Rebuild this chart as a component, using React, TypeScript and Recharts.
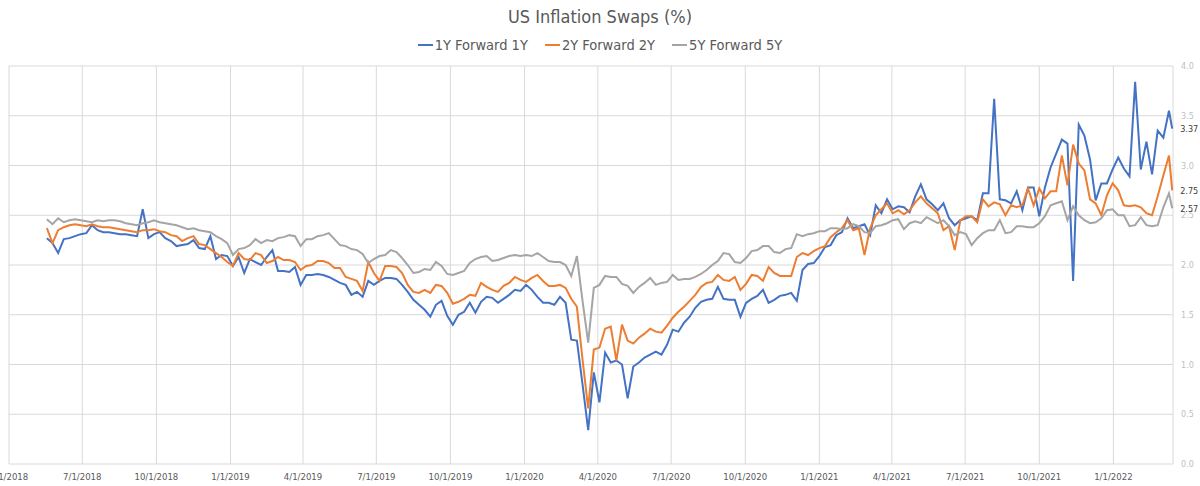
import React from "react";
import { LineChart, Line, XAxis, YAxis, CartesianGrid } from "recharts";

const DAY = 86400000;
// weekly fixings from this Friday onwards, last print is a Tuesday
const FIRST_WEEK = Date.UTC(2018, 4, 18);
const LAST_DAY = Date.UTC(2022, 2, 15);

const FONT = '"DejaVu Sans Condensed", "Liberation Sans Narrow", Roboto, sans-serif';

// 1Y forward 1Y
const f1y2018 = [
  2.27, 2.22, 2.12, 2.26, 2.27, 2.29, 2.31, 2.32, 2.4, 2.35, 2.33, 2.33, 2.32, 2.31, 2.31, 2.3, 2.29,
  2.56, 2.27, 2.31, 2.33, 2.27, 2.24, 2.19, 2.2, 2.21, 2.25, 2.17, 2.16, 2.29, 2.06, 2.1, 2.09,
];
const f1y2019 = [
  1.99, 2.08, 1.92, 2.06, 2.03, 2.0, 2.08, 2.15, 1.94, 1.94, 1.93, 1.98, 1.8, 1.9, 1.9, 1.91, 1.9,
  1.88, 1.85, 1.82, 1.8, 1.7, 1.73, 1.68, 1.84, 1.8, 1.84, 1.87, 1.87, 1.86, 1.8, 1.73, 1.65, 1.6,
  1.55, 1.48, 1.6, 1.64, 1.49, 1.4, 1.5, 1.53, 1.62, 1.52, 1.63, 1.68, 1.67, 1.62, 1.66, 1.7, 1.75,
  1.74,
];
const f1y2020 = [
  1.8, 1.75, 1.68, 1.62, 1.62, 1.6, 1.68, 1.62, 1.25, 1.24, 0.8, 0.34, 0.92, 0.62, 1.12, 1.02, 1.04,
  1.0, 0.66, 0.98, 1.02, 1.07, 1.1, 1.13, 1.1, 1.2, 1.35, 1.33, 1.42, 1.48, 1.57, 1.63, 1.65, 1.66,
  1.78, 1.66, 1.65, 1.65, 1.48, 1.62, 1.66, 1.69, 1.75, 1.62, 1.65, 1.69, 1.7, 1.72, 1.64, 1.95,
  2.01, 2.02,
];
const f1y2021 = [
  2.09, 2.18, 2.2, 2.3, 2.33, 2.47, 2.37, 2.39, 2.41, 2.3, 2.6, 2.52, 2.66, 2.56, 2.59, 2.58, 2.53,
  2.69, 2.81, 2.66, 2.61, 2.55, 2.62, 2.47, 2.4, 2.45, 2.47, 2.49, 2.45, 2.72, 2.72, 3.67, 2.66,
  2.65, 2.62, 2.74, 2.55, 2.78, 2.78, 2.49, 2.78, 2.98, 3.12, 3.26, 3.22, 1.84, 3.41, 3.3, 3.06,
  2.65, 2.82, 2.82, 2.96,
];
const f1y2022 = [3.08, 2.97, 2.89, 3.84, 2.96, 3.24, 2.91, 3.35, 3.28, 3.55, 3.37];

// 2Y forward 2Y
const f2y2018 = [
  2.37, 2.22, 2.35, 2.38, 2.4, 2.41, 2.4, 2.39, 2.41, 2.39, 2.38, 2.38, 2.37, 2.36, 2.35, 2.34, 2.33,
  2.35, 2.35, 2.36, 2.34, 2.33, 2.3, 2.29, 2.24, 2.27, 2.29, 2.21, 2.2, 2.16, 2.12, 2.08, 2.03,
];
const f2y2019 = [
  1.99, 2.12, 2.06, 2.05, 2.12, 2.1, 2.02, 2.04, 2.08, 2.05, 2.05, 2.03, 1.95, 1.99, 2.0, 2.04,
  2.04, 2.02, 1.97, 1.97, 1.88, 1.86, 1.84, 1.74, 2.03, 1.92, 1.84, 1.99, 1.99, 1.98, 1.92, 1.8,
  1.73, 1.72, 1.75, 1.72, 1.8, 1.79, 1.72, 1.61, 1.63, 1.66, 1.7, 1.69, 1.82, 1.78, 1.75, 1.73,
  1.79, 1.82, 1.88, 1.85,
];
const f2y2020 = [
  1.83, 1.87, 1.9, 1.84, 1.79, 1.79, 1.8, 1.77, 1.66, 1.58, 1.05, 0.56, 1.15, 1.17, 1.36, 1.38,
  1.04, 1.4, 1.24, 1.21, 1.27, 1.31, 1.36, 1.33, 1.32, 1.39, 1.47, 1.53, 1.58, 1.64, 1.7, 1.78,
  1.82, 1.83, 1.9, 1.85, 1.84, 1.88, 1.75, 1.81, 1.9, 1.89, 1.84, 1.98, 1.92, 1.89, 1.89, 1.89,
  2.08, 2.12, 2.1, 2.14,
];
const f2y2021 = [
  2.17, 2.19, 2.28, 2.33, 2.37, 2.45, 2.35, 2.37, 2.1, 2.37, 2.5, 2.56, 2.62, 2.52, 2.55, 2.51, 2.55,
  2.63, 2.69, 2.62, 2.57, 2.52, 2.35, 2.39, 2.15, 2.45, 2.49, 2.49, 2.43, 2.66, 2.59, 2.63, 2.61,
  2.5, 2.6, 2.58, 2.6, 2.77, 2.6, 2.77, 2.67, 2.74, 2.74, 3.1, 2.8, 3.21, 3.02, 2.95, 2.66, 2.62,
  2.5, 2.7, 2.82,
];
const f2y2022 = [2.75, 2.6, 2.59, 2.6, 2.58, 2.52, 2.5, 2.69, 2.9, 3.1, 2.75];

// 5Y forward 5Y
const f5y2018 = [
  2.46, 2.41, 2.47, 2.43, 2.45, 2.46, 2.45, 2.44, 2.43, 2.45, 2.44, 2.45, 2.45, 2.44, 2.42, 2.41,
  2.4, 2.42, 2.43, 2.45, 2.43, 2.42, 2.41, 2.4, 2.38, 2.36, 2.37, 2.35, 2.34, 2.33, 2.29, 2.26, 2.22,
];
const f5y2019 = [
  2.1, 2.16, 2.17, 2.2, 2.26, 2.22, 2.25, 2.24, 2.27, 2.28, 2.3, 2.29, 2.19, 2.26, 2.26, 2.29, 2.3,
  2.32, 2.26, 2.2, 2.19, 2.16, 2.15, 2.11, 2.02, 2.06, 2.09, 2.1, 2.15, 2.13, 2.07, 2.0, 1.92, 1.93,
  1.96, 1.95, 2.03, 1.99, 1.91, 1.9, 1.92, 1.94, 2.02, 2.06, 2.08, 2.09, 2.04, 2.05, 2.07, 2.09,
  2.1, 2.09,
];
const f5y2020 = [
  2.1, 2.09, 2.12, 2.08, 2.04, 2.03, 2.03, 2.0, 1.89, 2.09, 1.64, 1.22, 1.77, 1.8, 1.89, 1.88, 1.88,
  1.81, 1.79, 1.72, 1.78, 1.82, 1.87, 1.8, 1.82, 1.83, 1.9, 1.85, 1.86, 1.86, 1.88, 1.91, 1.95, 2.0,
  2.04, 2.12, 2.11, 2.03, 2.02, 2.07, 2.14, 2.15, 2.19, 2.19, 2.13, 2.12, 2.16, 2.17, 2.31, 2.29,
  2.31, 2.32,
];
const f5y2021 = [
  2.34, 2.34, 2.37, 2.37, 2.36, 2.37, 2.41, 2.39, 2.33, 2.32, 2.39, 2.4, 2.42, 2.45, 2.46, 2.36,
  2.42, 2.44, 2.42, 2.48, 2.45, 2.42, 2.45, 2.39, 2.3, 2.33, 2.31, 2.2, 2.27, 2.32, 2.35, 2.35, 2.45,
  2.32, 2.33, 2.39, 2.39, 2.38, 2.38, 2.42, 2.49, 2.6, 2.62, 2.64, 2.45, 2.59, 2.5, 2.45, 2.42,
  2.43, 2.47, 2.55, 2.56,
];
const f5y2022 = [2.5, 2.5, 2.39, 2.4, 2.48, 2.4, 2.39, 2.4, 2.58, 2.72, 2.57];

const fwd1y1y = [...f1y2018, ...f1y2019, ...f1y2020, ...f1y2021, ...f1y2022];
const fwd2y2y = [...f2y2018, ...f2y2019, ...f2y2020, ...f2y2021, ...f2y2022];
const fwd5y5y = [...f5y2018, ...f5y2019, ...f5y2020, ...f5y2021, ...f5y2022];

const xTicks = [
  "2018-04-01", "2018-07-01", "2018-10-01", "2019-01-01", "2019-04-01", "2019-07-01",
  "2019-10-01", "2020-01-01", "2020-04-01", "2020-07-01", "2020-10-01", "2021-01-01",
  "2021-04-01", "2021-07-01", "2021-10-01", "2022-01-01",
].map((s) => Date.parse(s));
const yTicks = [0, 0.5, 1, 1.5, 2, 2.5, 3, 3.5, 4];

const series = [
  { key: "f1", name: "1Y Forward 1Y", color: "#4472C4" },
  { key: "f2", name: "2Y Forward 2Y", color: "#ED7D31" },
  { key: "f5", name: "5Y Forward 5Y", color: "#A5A5A5" },
];

const data = fwd1y1y.map((v, i) => ({
  t: i === fwd1y1y.length - 1 ? LAST_DAY : FIRST_WEEK + i * 7 * DAY,
  f1: v,
  f2: fwd2y2y[i],
  f5: fwd5y5y[i],
}));

const fmtDate = (t: number) => {
  const d = new Date(t);
  return `${d.getUTCMonth() + 1}/${d.getUTCDate()}/${d.getUTCFullYear()}`;
};

// value tag next to the latest point only
const EndLabel = (props: any) => {
  const { x, y, index, value } = props;
  if (index !== data.length - 1) return null;
  return (
    <text x={x + 8} y={y} dy={3.5} fontSize={9} fill="#404040" fontFamily={FONT}>
      {Number(value).toFixed(2)}
    </text>
  );
};

export default function App() {
  return (
    <div
      style={{
        position: "absolute",
        left: 0,
        top: 0,
        width: 1200,
        height: 486,
        background: "#fff",
        fontFamily: FONT,
      }}
    >
      <div
        style={{
          position: "absolute",
          top: 6,
          width: "100%",
          textAlign: "center",
          fontSize: 18,
          color: "#595959",
        }}
      >
        US Inflation Swaps (%)
      </div>
      <div
        style={{
          position: "absolute",
          top: 37,
          width: "100%",
          display: "flex",
          justifyContent: "center",
          gap: 17,
          fontSize: 14.5,
          color: "#595959",
        }}
      >
        {series.map((s) => (
          <span key={s.key} style={{ display: "flex", alignItems: "center" }}>
            <span style={{ width: 15, height: 2, background: s.color, marginRight: 2 }} />
            {s.name}
          </span>
        ))}
      </div>
      <LineChart
        width={1200}
        height={486}
        data={data}
        margin={{ top: 66, right: 0, left: 9, bottom: 0 }}
      >
        <CartesianGrid stroke="#D9D9D9" />
        <XAxis
          dataKey="t"
          type="number"
          domain={[Date.UTC(2018, 3, 1), Date.UTC(2022, 2, 16)]}
          ticks={xTicks}
          interval={0}
          tickFormatter={fmtDate}
          axisLine={false}
          tickLine={false}
          tickMargin={3}
          height={22}
          tick={{ fill: "#595959", fontSize: 9.5 }}
        />
        <YAxis
          orientation="right"
          domain={[0, 4]}
          ticks={yTicks}
          tickFormatter={(v: number) => v.toFixed(1)}
          axisLine={false}
          tickLine={false}
          width={27}
          tick={{ fill: "#BFBFBF", fontSize: 9 }}
        />
        {series.map((s) => (
          <Line
            key={s.key}
            dataKey={s.key}
            name={s.name}
            type="linear"
            stroke={s.color}
            strokeWidth={2}
            dot={false}
            label={<EndLabel />}
            isAnimationActive={false}
          />
        ))}
      </LineChart>
    </div>
  );
}
